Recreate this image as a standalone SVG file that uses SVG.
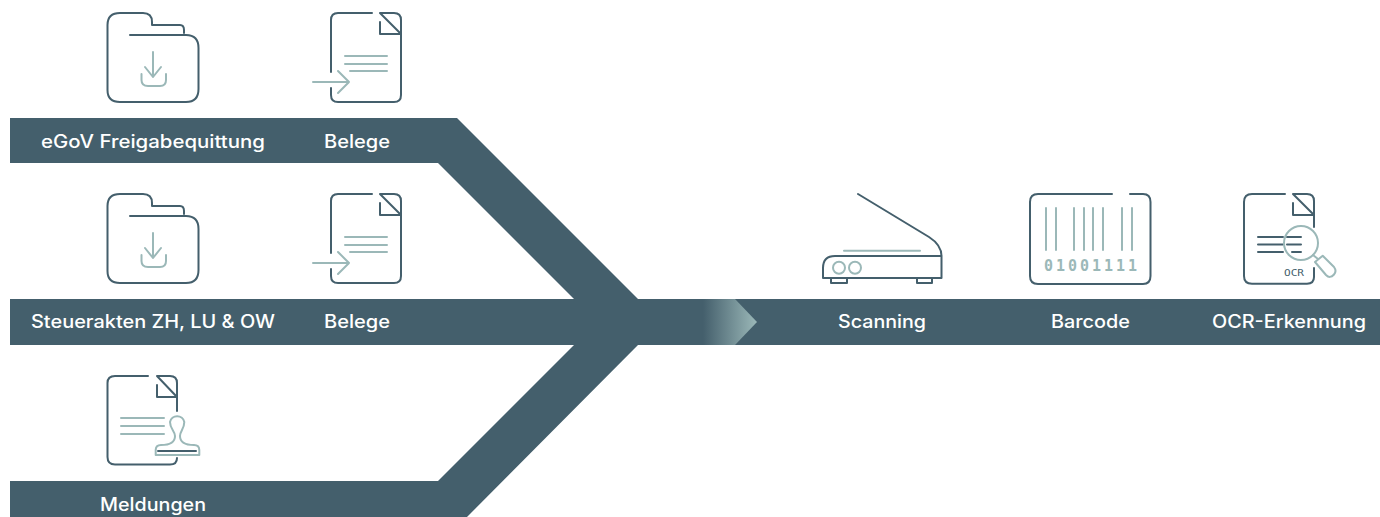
<svg xmlns="http://www.w3.org/2000/svg" width="1380" height="517" viewBox="0 0 1380 517">
<style>
.d{fill:none;stroke:#445f6c;stroke-width:2;stroke-linecap:round;stroke-linejoin:round}
.l{fill:none;stroke:#9bb8b8;stroke-width:2;stroke-linecap:round;stroke-linejoin:round}
.t{font-family:"Inter","Liberation Sans",sans-serif;font-size:18px;font-weight:500;fill:#fff}
.m{font-family:"DejaVu Sans Mono","Liberation Mono",monospace}
</style>
<defs>
<linearGradient id="g" x1="0" x2="1" y1="0" y2="0"><stop offset="0" stop-color="#445f6c"/><stop offset="1" stop-color="#9bb8b8"/></linearGradient>
<g id="folder">
<path class="d" d="M130,35H186Q198.500,35 198.500,48V89Q198.500,102 186,102H120Q107.500,102 107.500,90V25Q107.500,13 120,13H143Q152,13 152,22V25H180Q184,25 184,30V33"/>
<path class="l" d="M153,52V77M145,67L153,77L161,67M141.500,74V80Q141.500,86 148,86H160Q166,86 166,80V74"/>
</g>
<g id="docin">
<path class="d" d="M372,13H338Q331,13 331,20V72M331,88V95Q331,102 338,102H394Q401,102 401,95V20Q401,13 394,13H380L401,34H380V22"/>
<path class="l" d="M345,56H387M345,64H387M350,71H387M313,82H349M338,71L349,82L338,93"/>
</g>
</defs>
<g id="connectors">
<path fill="#445f6c" d="M10,118H457L638,299H1380V345H638L467,517H10V481H438L574,345H10V299H574L438,163H10Z"/>
<path fill="url(#g)" d="M703,299H735L757,322L735,345H703Z"/>
</g>
<g id="node-egov"><use href="#folder"/><text class="t" x="41" y="147.500" textLength="224" lengthAdjust="spacingAndGlyphs">eGoV Freigabequittung</text></g>
<g id="node-belege-1"><use href="#docin"/><text class="t" x="324" y="147.500" textLength="66" lengthAdjust="spacingAndGlyphs">Belege</text></g>
<g id="node-steuerakten"><use href="#folder" y="181"/><text class="t" x="31" y="328" textLength="244" lengthAdjust="spacingAndGlyphs">Steuerakten ZH, LU &amp; OW</text></g>
<g id="node-belege-2"><use href="#docin" y="181"/><text class="t" x="324" y="328" textLength="66" lengthAdjust="spacingAndGlyphs">Belege</text></g>
<g id="node-meldungen">
<path class="d" d="M148,376H115Q107.500,376 107.500,383V457Q107.500,464.500 115,464.500H170Q177,464.500 177,458M177,411V383Q177,376 170,376H157L177,397H157V385"/>
<path class="l" d="M121,418H164M121,426H164M121,434H164"/>
<path class="l" d="M155.700,455V450Q155.700,445 161,445C170,445 175,442 175,436C175,431 170,429 170,422A7.300,7.300 0 0 1 184.300,422C184.300,429 180,431 180,436C180,442 185,445 194,445Q199.300,445 199.300,450V455Z"/>
<path class="d" d="M158,451H196"/>
<text class="t" x="100" y="510.500" textLength="106" lengthAdjust="spacingAndGlyphs">Meldungen</text>
</g>
<g id="node-scanning">
<path class="d" d="M858,194L929,237Q941.500,245 941.500,256V278H823V268Q823,256 835,256H941.500M831,278V283H847V278M917,278V283H932V278"/>
<path class="l" d="M844,250.700H920"/>
<circle class="l" cx="839" cy="267.700" r="6"/><circle class="l" cx="855" cy="267.700" r="6"/>
<text class="t" x="838" y="328" textLength="88" lengthAdjust="spacingAndGlyphs">Scanning</text>
</g>
<g id="node-barcode">
<path class="d" d="M1112,194H1038Q1030,194 1030,202V276Q1030,284 1038,284H1143Q1150.500,284 1150.500,276V202Q1150.500,194 1143,194H1130"/>
<path class="l" d="M1046,208V250M1056,208V250M1074,208V250M1084,208V250M1093,208V250M1103,208V250M1122,208V250M1132,208V250"/>
<text class="m" x="1044" y="271" font-size="15" font-weight="700" fill="#9bb8b8" textLength="93">01001111</text>
<text class="t" x="1051" y="328" textLength="79" lengthAdjust="spacingAndGlyphs">Barcode</text>
</g>
<g id="node-ocr">
<path class="d" d="M1285,194H1252Q1244,194 1244,202V276Q1244,283.700 1252,283.700H1307Q1314,283.700 1314,277V268M1314,227V201Q1314,194 1307,194H1293L1314,215H1293V203"/>
<path class="d" d="M1258,237H1283M1287,237H1301M1258,244.500H1283M1287,244.500H1301M1258,252H1283M1292,252H1301"/>
<circle class="l" cx="1301" cy="243" r="17"/>
<path class="l" d="M1313,255L1318,259M1315,262L1322.700,255.700L1334,267Q1337,271 1334,274.500Q1330,279 1326,275Z"/>
<text class="m" x="1284" y="276" font-size="9" font-weight="400" fill="#445f6c" textLength="20" lengthAdjust="spacingAndGlyphs">OCR</text>
<text class="t" x="1212" y="328" textLength="154" lengthAdjust="spacingAndGlyphs">OCR-Erkennung</text>
</g>
</svg>
